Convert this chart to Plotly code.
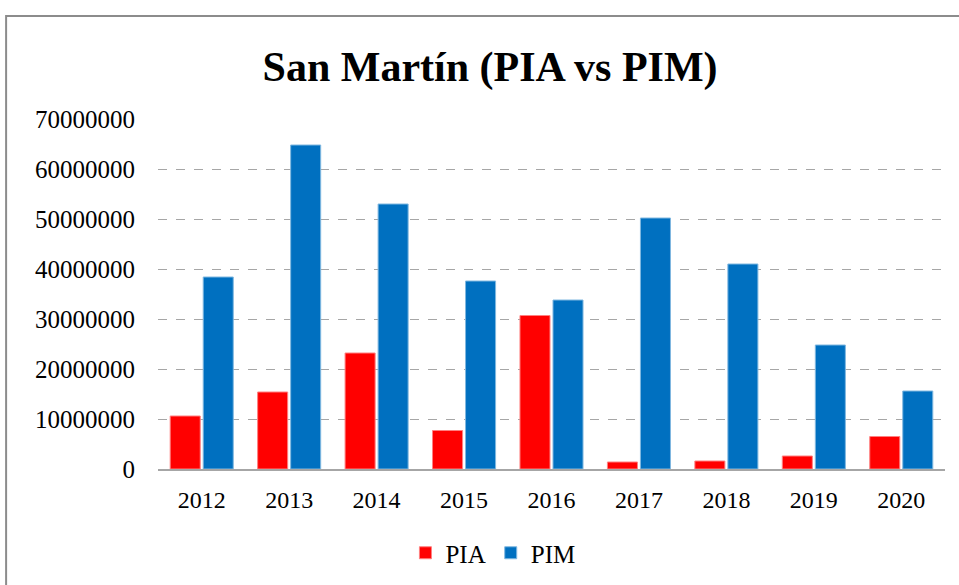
import plotly.graph_objects as go

years = ["2012", "2013", "2014", "2015", "2016", "2017", "2018", "2019", "2020"]
pia = [10600000, 15400000, 23200000, 7700000, 30700000, 1400000, 1600000, 2600000, 6500000]
pim = [38400000, 64800000, 53000000, 37600000, 33800000, 50200000, 41000000, 24800000, 15600000]
y_ticks = [0, 10000000, 20000000, 30000000, 40000000, 50000000, 60000000, 70000000]

fig = go.Figure()
fig.add_trace(go.Bar(name="PIA", x=years, y=pia, marker=dict(color="#FF0000", line=dict(color="#FF8080", width=1))))
fig.add_trace(go.Bar(name="PIM", x=years, y=pim, marker=dict(color="#0070C0", line=dict(color="#80B8E0", width=1))))

font_family = "Liberation Serif"
fig.update_layout(
    width=959, height=585,
    margin=dict(l=158, r=14, t=119, b=116),
    paper_bgcolor="white", plot_bgcolor="white",
    barmode="group", bargap=0.245, bargroupgap=0.09,
    title=dict(text="<b>San Martín (PIA vs PIM)</b>", x=0.511, xref="container", y=0.887, yref="container",
               xanchor="center", yanchor="middle", font=dict(family=font_family, size=42, color="black")),
    font=dict(family=font_family, size=24, color="black"),
    legend=dict(orientation="h", xref="container", yref="container", x=0.514, y=0.0547,
                xanchor="center", yanchor="middle", font=dict(size=25, family=font_family, color="black"),
                itemwidth=30, traceorder="normal"),
    xaxis=dict(showgrid=False, showline=True, linecolor="#A6A6A6", linewidth=2, ticks="",
               tickfont=dict(size=24, family=font_family), ticklabelstandoff=8),
    yaxis=dict(range=[0, 70000000], tickvals=y_ticks, ticktext=[str(v) for v in y_ticks],
               showgrid=True, gridcolor="#A6A6A6", griddash="dash", gridwidth=1,
               zeroline=False, showline=False, ticks="", tickfont=dict(size=25, family=font_family),
               ticklabelstandoff=22),
    shapes=[dict(type="rect", xref="paper", yref="paper", x0=-0.193, x1=1.03, y0=-0.4, y1=1.294,
                 line=dict(color="#8C8C8C", width=2), fillcolor="rgba(0,0,0,0)", layer="below")],
)

fig.write_html("out.html", config={"displayModeBar": False},
               post_script="document.body.style.margin='0';")
